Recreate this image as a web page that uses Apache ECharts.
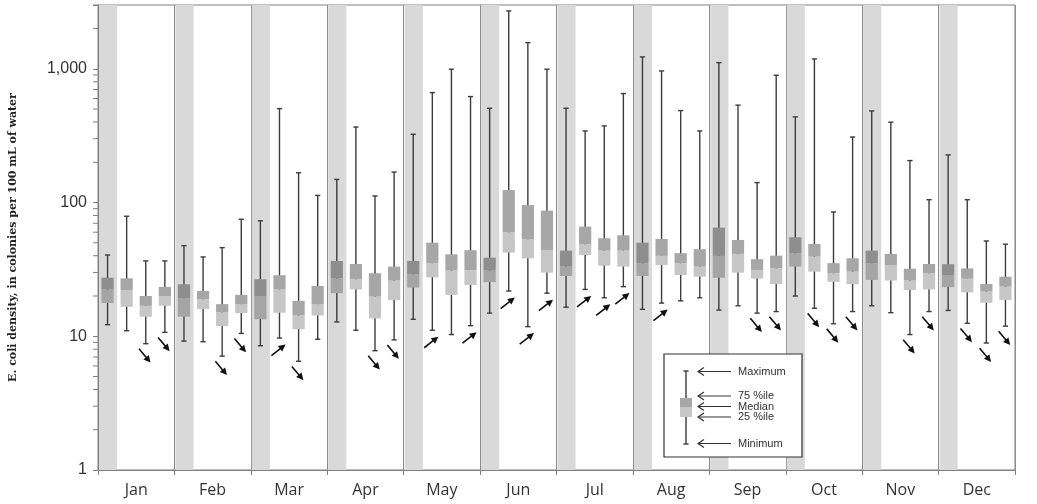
<!DOCTYPE html>
<html>
<head>
<meta charset="utf-8">
<script src="https://cdn.jsdelivr.net/npm/echarts@6/dist/echarts.min.js"></script>
<style>
html, body { margin: 0; padding: 0; background: #fff; }
#container { width: 1037px; height: 504px; }
</style>
</head>
<body>
<div id="container"></div>
<script>
var dom = document.getElementById("container");
var myChart = echarts.init(dom, null, { renderer: "canvas" });

// month names on the x axis, 4 boxes per month
var months = ["Jan", "Feb", "Mar", "Apr", "May", "Jun", "Jul", "Aug", "Sep", "Oct", "Nov", "Dec"];
var boxesPerMonth = 4;

// box statistics, one row per month (4 values each)
var mins = [
  12.2, 11.0, 8.8, 10.7,
  9.2, 9.1, 7.1, 10.5,
  8.5, 9.7, 6.5, 9.5,
  12.8, 11.1, 7.8, 9.4,
  13.4, 11.1, 10.3, 12.0,
  14.9, 21.8, 11.8, 21.0,
  16.5, 22.4, 19.4, 23.5,
  15.9, 17.7, 18.4, 19.4,
  15.7, 16.9, 14.9, 15.3,
  20.0, 16.2, 12.4, 15.3,
  16.9, 15.0, 10.3, 15.3,
  15.6, 12.5, 8.9, 11.9
];
var q1s = [
  17.7, 16.6, 14.0, 16.9,
  14.0, 16.0, 11.9, 14.9,
  13.4, 15.0, 11.3, 14.3,
  21.0, 22.4, 13.6, 18.7,
  23.1, 27.6, 20.4, 24.2,
  25.4, 42.2, 38.3, 29.9,
  28.2, 40.5, 33.7, 33.2,
  28.2, 34.1, 28.7, 27.9,
  27.4, 29.9, 27.0, 24.6,
  33.2, 30.4, 25.5, 24.5,
  26.4, 26.1, 22.2, 22.4,
  23.3, 21.3, 17.8, 18.7
];
var medians = [
  22.4, 22.2, 16.9, 20.0,
  19.2, 18.9, 15.1, 17.4,
  20.0, 22.4, 14.3, 17.4,
  27.1, 26.7, 19.8, 26.1,
  29.1, 35.2, 31.0, 31.3,
  31.0, 60.0, 53.1, 44.2,
  33.2, 48.8, 43.7, 43.7,
  35.2, 39.9, 35.2, 33.2,
  39.9, 41.3, 31.3, 32.2,
  41.8, 39.4, 29.6, 30.4,
  35.2, 34.1, 26.1, 29.6,
  28.7, 26.9, 21.6, 23.5
];
var q3s = [
  27.4, 27.1, 20.0, 23.4,
  24.5, 21.8, 17.4, 20.4,
  26.7, 28.6, 18.4, 23.8,
  36.6, 34.7, 29.6, 33.2,
  36.6, 50.1, 41.0, 44.0,
  38.7, 124, 95.9, 87,
  43.7, 66.1, 54.1, 56.9,
  50.1, 53.4, 41.8, 44.8,
  64.9, 52.5, 37.7, 40.1,
  55.0, 49.0, 35.2, 38.3,
  43.7, 41.3, 32.0, 34.7,
  34.6, 32.2, 24.6, 27.9
];
var maxs = [
  40.5, 79, 36.6, 36.6,
  47.6, 39.2, 46, 75,
  73, 504, 167, 113,
  149, 367, 112, 169,
  324, 664, 993, 620,
  507, 2710, 1570, 993,
  507, 343, 374, 653,
  1227, 964, 487, 343,
  1112, 535, 141, 895,
  437, 1186, 85, 309,
  484, 399, 206, 105,
  227, 105, 51.6, 48.8
];
// trend arrows under the boxes
var trends = [
  "", "", "down", "down",
  "", "", "down", "down",
  "", "up", "down", "",
  "", "", "down", "down",
  "", "up", "", "up",
  "", "up", "up", "up",
  "", "up", "up", "up",
  "", "up", "", "",
  "", "", "down", "down",
  "", "down", "down", "down",
  "", "", "down", "down",
  "", "down", "down", "down"
];

// y axis
var yMin = 1;
var yMax = 3000;
var minorTicks = [2, 3, 4, 5, 6, 7, 8, 9, 20, 30, 40, 50, 60, 70, 80, 90,
  200, 300, 400, 500, 600, 700, 800, 900, 2000, 3000];

var legendItems = ["Maximum", "75 %ile", "Median", "25 %ile", "Minimum"];

// build the series data
var slots = [];
var boxData = [];
var bandData = [];
var arrowData = [];
for (var i = 0; i < mins.length; i++) {
  slots.push(String(i));
  var first = (i % boxesPerMonth == 0) ? 1 : 0;
  boxData.push([i, mins[i], q1s[i], medians[i], q3s[i], maxs[i], first]);
  if (first) bandData.push([i, yMax]);
  if (trends[i] == "down") {
    arrowData.push({ value: [i, mins[i]], symbolRotate: -50 });
  } else if (trends[i] == "up") {
    arrowData.push({ value: [i, mins[i]], symbolRotate: 38 });
  }
}
var minorTickData = minorTicks.map(function (v) { return [0, v]; });

function renderBand(params, api) {
  var x = api.coord([api.value(0), yMax])[0];
  var w = params.coordSys.width / slots.length;
  return {
    type: "rect",
    shape: { x: x - w / 2 + 1, y: params.coordSys.y, width: w - 1, height: params.coordSys.height },
    style: { fill: "#d9d9d9" }
  };
}

function renderBox(params, api) {
  var idx = api.value(0);
  var pMin = api.coord([idx, api.value(1)]);
  var pQ1 = api.coord([idx, api.value(2)]);
  var pMed = api.coord([idx, api.value(3)]);
  var pQ3 = api.coord([idx, api.value(4)]);
  var pMax = api.coord([idx, api.value(5)]);
  var x = pMin[0];
  var slotW = params.coordSys.width / slots.length;
  var bw = slotW * 0.64;
  var cap = 2.6;
  var dark = api.value(6) == 1;
  var upper = dark ? "#8e8e8e" : "#a7a7a7";
  var lower = dark ? "#a5a5a5" : "#c6c6c6";
  var ws = { stroke: "#3c3c3c", lineWidth: 1.4 };
  return {
    type: "group",
    children: [
      { type: "line", shape: { x1: x, y1: pMin[1], x2: x, y2: pMax[1] }, style: ws },
      { type: "line", shape: { x1: x - cap, y1: pMin[1], x2: x + cap, y2: pMin[1] }, style: ws },
      { type: "line", shape: { x1: x - cap, y1: pMax[1], x2: x + cap, y2: pMax[1] }, style: ws },
      { type: "rect", shape: { x: x - bw / 2, y: pMed[1], width: bw, height: pQ1[1] - pMed[1] }, style: { fill: lower } },
      { type: "rect", shape: { x: x - bw / 2, y: pQ3[1], width: bw, height: pMed[1] - pQ3[1] }, style: { fill: upper } }
    ]
  };
}

function renderMinorTick(params, api) {
  var y = api.coord([0, api.value(1)])[1];
  var x = params.coordSys.x;
  return {
    type: "line",
    shape: { x1: x - 5, y1: y, x2: x, y2: y },
    style: { stroke: "#808080", lineWidth: 1 }
  };
}

// legend box drawn by hand
var legX = 664, legY = 354;
var legRows = [371.5, 396, 406.5, 417, 443.5];
var legend = [
  { type: "rect", shape: { x: legX, y: legY, width: 138, height: 103 },
    style: { fill: "#fff", stroke: "#333", lineWidth: 1.2 }, z: 100 },
  { type: "line", shape: { x1: 686, y1: 371, x2: 686, y2: 444 }, style: { stroke: "#3c3c3c", lineWidth: 1.4 }, z: 101 },
  { type: "line", shape: { x1: 683.4, y1: 371, x2: 688.6, y2: 371 }, style: { stroke: "#3c3c3c", lineWidth: 1.4 }, z: 101 },
  { type: "line", shape: { x1: 683.4, y1: 444, x2: 688.6, y2: 444 }, style: { stroke: "#3c3c3c", lineWidth: 1.4 }, z: 101 },
  { type: "rect", shape: { x: 680, y: 398, width: 12, height: 9 }, style: { fill: "#a7a7a7" }, z: 102 },
  { type: "rect", shape: { x: 680, y: 407, width: 12, height: 10 }, style: { fill: "#c6c6c6" }, z: 102 }
];
legendItems.forEach(function (name, k) {
  var y = legRows[k];
  legend.push({ type: "line", shape: { x1: 698, y1: y, x2: 731, y2: y }, style: { stroke: "#333", lineWidth: 1.2 }, z: 101 });
  legend.push({ type: "polyline", shape: { points: [[704, y - 4], [698, y], [704, y + 4]] }, style: { stroke: "#333", lineWidth: 1.2, fill: null }, z: 101 });
  legend.push({ type: "text", x: 738, y: y, style: { text: name, fill: "#333", font: "11px 'Liberation Sans', Arial, sans-serif", verticalAlign: "middle" }, z: 101 });
});

var option = {
  animation: false,
  grid: { left: 93, right: 22, top: 5, bottom: 34, show: true, borderColor: "#808080", borderWidth: 1 },
  xAxis: [
    {
      type: "category",
      data: months,
      boundaryGap: true,
      axisLine: { lineStyle: { color: "#808080" } },
      axisTick: { show: true, interval: 0, length: 5, lineStyle: { color: "#808080" } },
      axisLabel: { interval: 0, margin: 12, fontSize: 16, color: "#333", fontFamily: "'Open Sans', sans-serif" },
      splitLine: { show: true, interval: 0, lineStyle: { color: "#8c8c8c", width: 1 } }
    },
    {
      type: "category",
      data: slots,
      boundaryGap: true,
      show: false
    }
  ],
  yAxis: {
    type: "log",
    logBase: 10,
    min: yMin,
    max: yMax,
    name: "E. coli density, in colonies per 100 mL of water",
    nameLocation: "middle",
    nameRotate: 90,
    nameGap: 79,
    nameTextStyle: { fontSize: 11, fontWeight: "bold", color: "#222", fontFamily: "'DejaVu Serif', serif" },
    axisLine: { show: true, lineStyle: { color: "#808080" } },
    axisTick: { show: true, length: 5, lineStyle: { color: "#808080" } },
    axisLabel: {
      margin: 11, fontSize: 16, color: "#333", fontFamily: "'Liberation Sans', Arial, sans-serif",
      formatter: function (v) {
        var l = Math.log(v) / Math.LN10;
        if (Math.abs(l - Math.round(l)) > 1e-6) return "";
        return Math.round(v).toLocaleString("en-US");
      }
    },
    splitLine: { show: false }
  },
  series: [
    {
      type: "custom",
      name: "bands",
      xAxisIndex: 1,
      renderItem: renderBand,
      encode: { x: 0, y: 1 },
      data: bandData,
      silent: true,
      z: 1
    },
    {
      type: "custom",
      name: "minor ticks",
      xAxisIndex: 1,
      renderItem: renderMinorTick,
      encode: { x: 0, y: 1 },
      data: minorTickData,
      clip: false,
      silent: true,
      z: 3
    },
    {
      type: "custom",
      name: "boxes",
      xAxisIndex: 1,
      renderItem: renderBox,
      encode: { x: 0, y: [1, 5] },
      data: boxData,
      silent: true,
      z: 5
    },
    {
      type: "scatter",
      name: "trends",
      xAxisIndex: 1,
      symbol: "path://M0,2.7 L11,2.7 L11,0 L18,3.5 L11,7 L11,4.3 L0,4.3 Z",
      symbolSize: [18, 7],
      symbolOffset: [-1, 12],
      itemStyle: { color: "#111", opacity: 1 },
      data: arrowData,
      silent: true,
      z: 6
    }
  ],
  graphic: legend
};

myChart.setOption(option);
</script>
</body>
</html>
